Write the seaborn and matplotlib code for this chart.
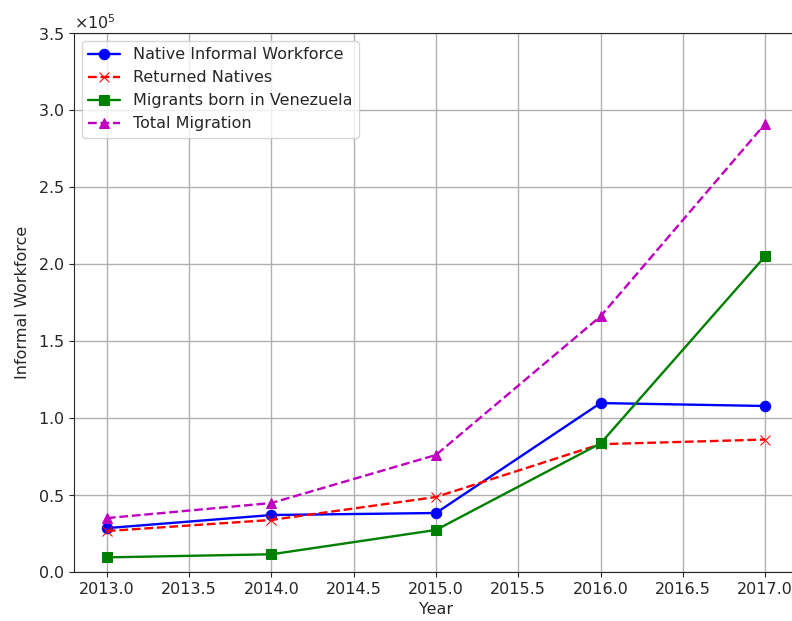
import pandas as pd
import numpy as np
import matplotlib.pyplot as plt
import seaborn as sns

years = [2013, 2014, 2015, 2016, 2017]
native = [28500, 37000, 38300, 109700, 107800]
returned = [26600, 33800, 48700, 83000, 86000]
migrants = [9500, 11500, 27300, 83500, 205000]
total = [35000, 44800, 76000, 166000, 291000]

series = [
    ('Native Informal Workforce', native, 'b', 'o', '-'),
    ('Returned Natives', returned, 'r', 'x', '--'),
    ('Migrants born in Venezuela', migrants, 'g', 's', '-'),
    ('Total Migration', total, 'm', '^', '--'),
]

sns.set_style('ticks')
plt.rcParams['font.size'] = 11.5
fig = plt.figure(figsize=(7.92, 6.21), dpi=100)
ax = fig.add_axes([74/792, 1-572/621, 724/792, 539/621])
for name, vals, col, mk, ls in series:
    sns.lineplot(x=years, y=vals, color=col, marker=mk, linestyle=ls, label=name,
                 ax=ax, markeredgecolor=col, markersize=7.5, linewidth=1.7)
ax.set_ylim(0, 350000)
ax.set_xlim(2012.8, 2017.2)
ax.set_xticks(np.arange(2013, 2017.01, 0.5))
ax.set_xticklabels([f'{v:.1f}' for v in np.arange(2013, 2017.01, 0.5)])
ax.ticklabel_format(axis='y', style='sci', scilimits=(0, 0), useMathText=True)
ax.tick_params(labelsize=11.5)
ax.grid(True, color='#b0b0b0', linewidth=1)
ax.spines['right'].set_visible(False)
ax.set_xlabel('Year', fontsize=11.5)
ax.set_ylabel('Informal Workforce', fontsize=11.5, labelpad=6)
ax.legend(loc='upper left', fontsize=11.5)
fig.savefig('out.png', dpi=100)
